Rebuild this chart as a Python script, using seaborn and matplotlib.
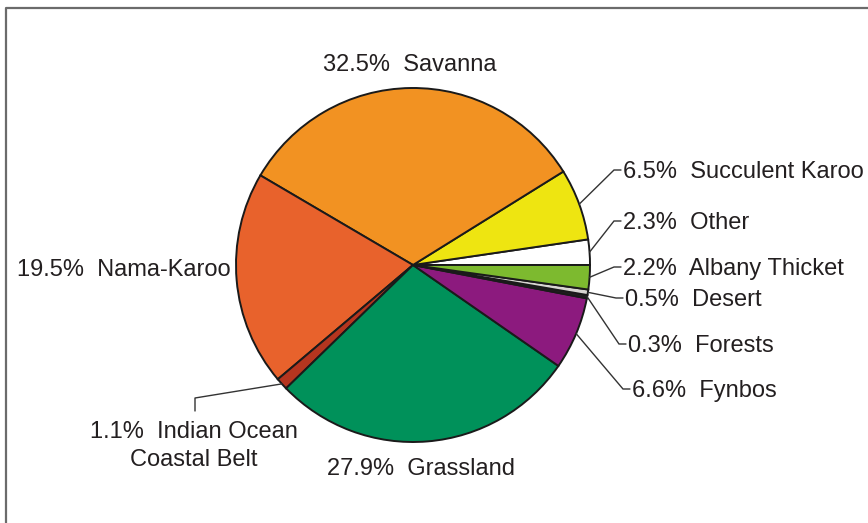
import numpy as np
import matplotlib
matplotlib.use("Agg")
import matplotlib.pyplot as plt
import seaborn as sns

# Biome share of land area (%), listed counter-clockwise from the 3 o'clock position
biomes = ["Other", "Succulent Karoo", "Savanna", "Nama-Karoo",
          "Indian Ocean\nCoastal Belt", "Grassland", "Fynbos", "Forests",
          "Desert", "Albany Thicket"]
shares = [2.3, 6.5, 32.5, 19.5, 1.1, 27.9, 6.6, 0.3, 0.5, 2.2]
colors = ["#ffffff", "#eee511", "#f29222", "#e8622c", "#b5351f",
          "#00915a", "#8c1a7e", "#231f20", "#d8d6d2", "#7dba2f"]

sns.set_theme(style="white")
plt.rcParams["font.family"] = ["Liberation Sans", "DejaVu Sans"]

W, H = 868, 523
fig = plt.figure(figsize=(W / 100, H / 100), dpi=100)
ax = fig.add_axes([0, 0, 1, 1])

cx, cy, r = 413, H - 265, 177
wedges, _ = ax.pie(shares, colors=colors, startangle=0, counterclock=True,
                   center=(cx, cy), radius=r, frame=True,
                   wedgeprops=dict(edgecolor="#1a1a1a", linewidth=1.4))
ax.set_xlim(0, W)
ax.set_ylim(0, H)
ax.set_aspect("equal")
ax.axis("off")

txt_color = "#231f20"
line_color = "#333333"
fs = 17
dy = 2  # nudge text down so the glyph body sits on the leader line

def label(i):
    return f"{shares[i]:.1f}%  {biomes[i]}"

def anchor(i):
    w = wedges[i]
    a = np.deg2rad((w.theta1 + w.theta2) / 2)
    return cx + r * np.cos(a), cy + r * np.sin(a)

# Labels set beside the pie without leader lines
ax.text(410, H - 63 - dy, label(2), ha="center", va="center", fontsize=fs, color=txt_color)
ax.text(231, H - 268 - dy, label(3), ha="right", va="center", fontsize=fs, color=txt_color)
ax.text(421, H - 467 - dy, label(5), ha="center", va="center", fontsize=fs, color=txt_color)

# Labels on the right, joined to their wedges by elbow leaders
right_layout = {1: (623, 170), 0: (623, 221), 9: (623, 267),
                8: (625, 298), 7: (628, 344), 6: (632, 389)}
for i, (tx, ty) in right_layout.items():
    ax0, ay0 = anchor(i)
    ty_d = H - ty
    ax.plot([ax0, tx - 9, tx - 2], [ay0, ty_d, ty_d], color=line_color, lw=1.0,
            solid_joinstyle="miter")
    ax.text(tx, ty_d - dy, label(i), ha="left", va="center", fontsize=fs, color=txt_color)

# Indian Ocean Coastal Belt, lower left
ax0, ay0 = anchor(4)
ax.plot([ax0, 195, 195], [ay0, H - 398, H - 411], color=line_color, lw=1.0)
ax.text(194, H - 444 - dy, label(4), ha="center", va="center", fontsize=fs,
        color=txt_color, linespacing=1.3)

# Frame around the figure (top and left edges)
ax.plot([6, 6, W + 5], [-5, H - 8, H - 8], color="#6b6b6b", lw=1.6, clip_on=False)

fig.savefig("out.png", dpi=100)
